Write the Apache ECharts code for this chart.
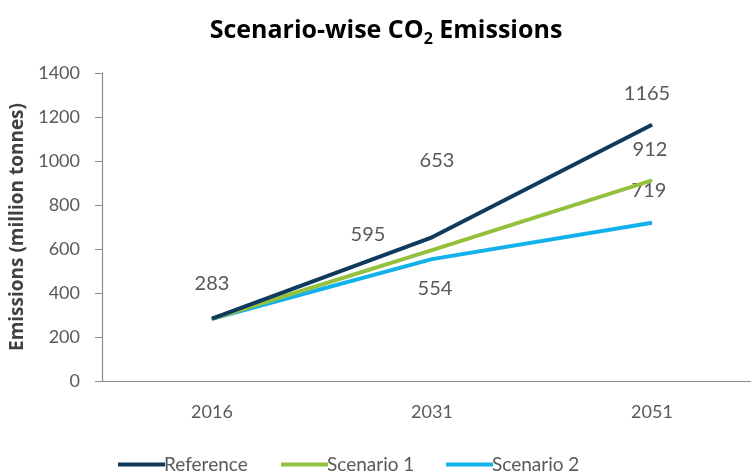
<!DOCTYPE html>
<html>
<head>
<meta charset="utf-8">
<script src="https://cdn.jsdelivr.net/npm/echarts@6/dist/echarts.min.js"></script>
<style>html,body{margin:0;padding:0;background:#fff;}#c{width:751px;height:474px;}</style>
</head>
<body>
<div id="c"></div>
<script>
const categories = ['2016', '2031', '2051'];
const referenceValues = [283, 653, 1165];
const scenario1Values = [283, 595, 912];
const scenario2Values = [283, 554, 719];
const seriesNames = ['Reference', 'Scenario 1', 'Scenario 2'];

const labelOffsets = {
  Reference: [[0, -35], [5, -77], [-5, -31]],
  'Scenario 1': [null, [-64, -16], [-2, -31]],
  'Scenario 2': [null, [3, 29], [-3, -32]]
};
const colors = ['#0f3a5c', '#93c13e', '#12b1ec'];
const legendLefts = [113, 276, 441];
const FONT = 'Lato';

function buildData(name, vals) {
  return vals.map((v, i) => {
    const off = labelOffsets[name][i];
    if (!off) return { value: v, label: { show: false } };
    return { value: v, label: { show: true, offset: off } };
  });
}

const chart = echarts.init(document.getElementById('c'));
const allVals = [referenceValues, scenario1Values, scenario2Values];
chart.setOption({
  animation: false,
  title: {
    text: 'Scenario-wise CO{sub|2} Emissions',
    left: 381, top: 10, textAlign: 'center',
    textStyle: {
      fontFamily: 'Open Sans', fontSize: 25, fontWeight: 'bold', color: '#000',
      rich: { sub: { fontFamily: 'Open Sans', fontSize: 16, fontWeight: 'bold', color: '#000', padding: [16, 0, 0, 0] } }
    }
  },
  legend: seriesNames.map((n, k) => ({
    data: [n],
    bottom: -5, left: legendLefts[k],
    icon: 'rect', itemWidth: 47, itemHeight: 4,
    textStyle: { fontFamily: FONT, fontSize: 19, color: '#595959', padding: [0, 0, 0, -6] }
  })),
  grid: { left: 102, right: -11, top: 73, bottom: 93, containLabel: false, outerBoundsMode: 'none' },
  xAxis: {
    type: 'category', data: categories, boundaryGap: true,
    axisLine: { lineStyle: { color: '#8c8c8c', width: 1.2 } },
    axisTick: { show: false },
    axisLabel: { fontFamily: FONT, fontSize: 18, color: '#595959', margin: 22 }
  },
  yAxis: {
    type: 'value', min: 0, max: 1400, interval: 200,
    name: 'Emissions (million tonnes)', nameLocation: 'middle', nameGap: 73, nameRotate: 90,
    nameTextStyle: { fontFamily: 'Open Sans', fontSize: 19, fontWeight: 'bold', color: '#404040' },
    axisLine: { show: true, lineStyle: { color: '#8c8c8c', width: 1.2 } },
    axisTick: { show: true, length: 7, lineStyle: { color: '#8c8c8c' } },
    splitLine: { show: false },
    axisLabel: { fontFamily: FONT, fontSize: 18, color: '#595959', margin: 22, formatter: v => String(v) }
  },
  series: seriesNames.map((n, k) => ({
    name: n, type: 'line', data: buildData(n, allVals[k]),
    symbol: 'circle', symbolSize: 1, showSymbol: true,
    lineStyle: { color: colors[k], width: 4 },
    itemStyle: { color: colors[k] },
    label: { position: 'inside', fontFamily: FONT, fontSize: 20, color: '#595959' },
    z: 3 - k
  }))
});
</script>
</body>
</html>
